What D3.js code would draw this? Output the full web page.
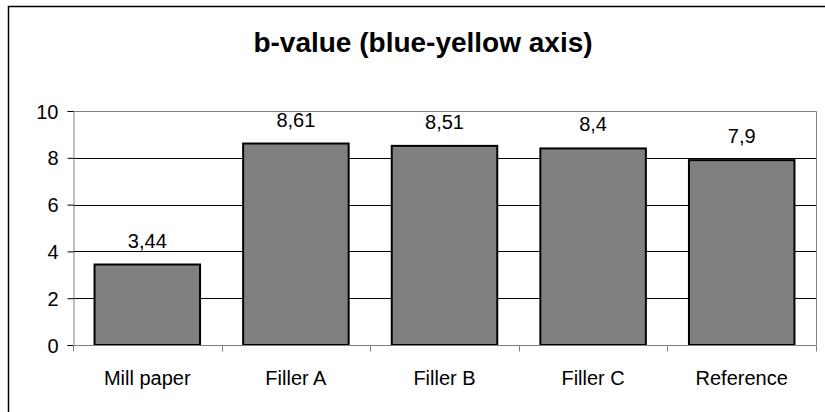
<!DOCTYPE html>
<html lang="en">

<head>
    <meta charset="UTF-8">
    <title>b-value (blue-yellow axis)</title>
    <script src="https://d3js.org/d3.v7.min.js"></script>
    <style>
        body { margin: 0; background: #fff; }
        text { font-family: Arial, "Liberation Sans", sans-serif; fill: #000; }
    </style>
</head>

<body>
    <div id="chart"></div>

    <script>
        // chart values
        const categories = ["Mill paper", "Filler A", "Filler B", "Filler C", "Reference"];
        const values = [3.44, 8.61, 8.51, 8.4, 7.9];
        const yTicks = [0, 2, 4, 6, 8, 10];
        const title = "b-value (blue-yellow axis)";

        const width = 825, height = 412;
        const plot = { left: 73, right: 816, top: 111, bottom: 345 };

        const svg = d3.select("#chart")
            .append("svg")
            .attr("width", width)
            .attr("height", height);

        // outer frame (runs off the right and bottom edge)
        svg.append("rect")
            .attr("x", 8.5)
            .attr("y", 6.5)
            .attr("width", width + 10)
            .attr("height", height + 10)
            .attr("fill", "none")
            .attr("stroke", "#000")
            .attr("stroke-width", 1.5);

        svg.append("text")
            .attr("x", 423)
            .attr("y", 52)
            .attr("text-anchor", "middle")
            .style("font-size", "28px")
            .style("font-weight", "bold")
            .text(title);

        let x = d3.scaleBand()
            .domain(categories)
            .range([plot.left, plot.right])
            .paddingInner(0.29)
            .paddingOuter(0.145);

        let y = d3.scaleLinear()
            .domain([0, 10])
            .range([plot.bottom, plot.top]);

        // gridlines
        svg.append("g")
            .selectAll("line")
            .data(yTicks.filter(t => t > 0 && t < 10))
            .enter().append("line")
            .attr("x1", plot.left)
            .attr("x2", plot.right)
            .attr("y1", d => Math.round(y(d)) + 0.5)
            .attr("y2", d => Math.round(y(d)) + 0.5)
            .attr("stroke", "#000")
            .attr("stroke-width", 1);

        // plot area border, top and right
        svg.append("path")
            .attr("d", `M${plot.left},${plot.top + 0.5}H${plot.right + 0.5}V${plot.bottom}`)
            .attr("fill", "none")
            .attr("stroke", "#808080")
            .attr("stroke-width", 1);

        // bars
        svg.selectAll(".bar")
            .data(values)
            .enter().append("rect")
            .attr("class", "bar")
            .attr("x", (d, i) => x(categories[i]))
            .attr("y", d => y(d))
            .attr("width", x.bandwidth())
            .attr("height", d => y(0) - y(d))
            .attr("fill", "#808080")
            .attr("stroke", "#000")
            .attr("stroke-width", 2);

        // value labels
        svg.selectAll(".val")
            .data(values)
            .enter().append("text")
            .attr("class", "val")
            .attr("x", (d, i) => x(categories[i]) + x.bandwidth() / 2)
            .attr("y", d => y(d) - 17)
            .attr("text-anchor", "middle")
            .style("font-size", "20px")
            .text(d => String(d).replace(".", ","));

        // y axis
        const yAxis = svg.append("g")
            .attr("transform", "translate(" + (plot.left + 0.5) + ",0)")
            .call(d3.axisLeft(y).tickValues(yTicks).tickSize(6).tickPadding(9));
        yAxis.select(".domain").attr("stroke", "#808080");
        yAxis.selectAll(".tick line").attr("stroke", "#000");
        yAxis.selectAll(".tick text")
            .style("font-size", "20px")
            .attr("font-family", null)
            .attr("dy", "0.35em");

        // x axis, ticks at category boundaries
        const xAxis = svg.append("g")
            .attr("transform", "translate(0," + (plot.bottom + 0.5) + ")");
        xAxis.append("line")
            .attr("x1", plot.left)
            .attr("x2", plot.right + 0.5)
            .attr("stroke", "#808080");
        xAxis.selectAll(".sep")
            .data(d3.range(categories.length + 1))
            .enter().append("line")
            .attr("class", "sep")
            .attr("x1", i => Math.round(plot.left + i * x.step()) + 0.5)
            .attr("x2", i => Math.round(plot.left + i * x.step()) + 0.5)
            .attr("y1", 0)
            .attr("y2", 6)
            .attr("stroke", "#808080");
        xAxis.selectAll(".cat")
            .data(categories)
            .enter().append("text")
            .attr("class", "cat")
            .attr("x", d => x(d) + x.bandwidth() / 2)
            .attr("y", 39)
            .attr("text-anchor", "middle")
            .style("font-size", "20px")
            .text(d => d);
    </script>
</body>

</html>
